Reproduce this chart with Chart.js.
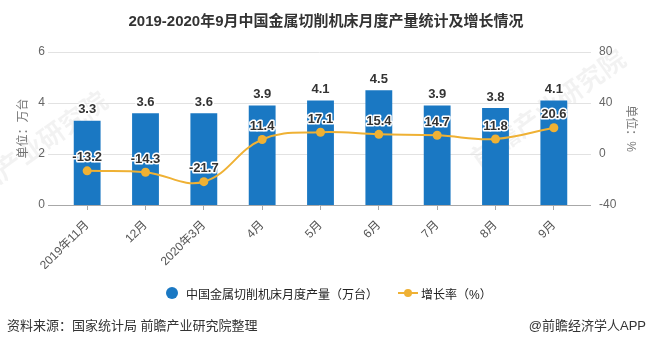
<!DOCTYPE html>
<html>
<head>
<meta charset="utf-8">
<script src="https://cdn.jsdelivr.net/npm/chart.js@4/dist/chart.umd.min.js"></script>
<style>
  html, body { margin: 0; padding: 0; background: #fff; }
  body { width: 652px; height: 345px; position: relative; overflow: hidden;
         font-family: "Liberation Sans", "Noto Sans CJK SC", sans-serif; }
  #title { position: absolute; top: 9px; left: 0; width: 652px; text-align: center;
           font-size: 15px; font-weight: bold; color: #333; }
  #wrap { position: absolute; left: 0; top: 0; width: 652px; height: 345px; }
  .lg { position: absolute; top: 285px; font-size: 12px; color: #222; white-space: nowrap; }
  .dot { position: absolute; top: 287px; left: 166px; width: 12px; height: 12px; border-radius: 50%; background: #1a78c3; }
  .ln { position: absolute; top: 292px; left: 398px; width: 20px; height: 2px; background: #efb134; }
  .ln::after { content: ""; position: absolute; left: 6px; top: -3px; width: 8px; height: 8px;
               border-radius: 50%; background: #efb134; }
  #src { position: absolute; top: 315px; left: 7px; font-size: 13px; color: #333; }
  #app { position: absolute; top: 315px; right: 6px; font-size: 13px; color: #333; }
</style>
</head>
<body>
<div id="wrap"><canvas id="c" width="652" height="345"></canvas></div>
<div id="title">2019-2020年9月中国金属切削机床月度产量统计及增长情况</div>
<span class="dot"></span><span class="lg" style="left:186px">中国金属切削机床月度产量（万台）</span>
<span class="ln"></span><span class="lg" style="left:421px">增长率（%）</span>
<div id="src">资料来源：国家统计局 前瞻产业研究院整理</div>
<div id="app">@前瞻经济学人APP</div>
<script>
const months = ['2019年11月', '12月', '2020年3月', '4月', '5月', '6月', '7月', '8月', '9月'];
const output = [3.3, 3.6, 3.6, 3.9, 4.1, 4.5, 3.9, 3.8, 4.1];   // 万台
const growth = [-13.2, -14.3, -21.7, 11.4, 17.1, 15.4, 14.7, 11.8, 20.6];   // %
const leftTicks = [0, 2, 4, 6];
const rightTicks = [-40, 0, 40, 80];

const BLUE = '#1a78c3';
const GOLD = '#efb134';
const FONT = '"Liberation Sans", "Noto Sans CJK SC", sans-serif';

// faint slanted watermark, then horizontal grid lines a little wider than the plot area
const gridPlugin = {
  id: 'wideGrid',
  beforeDatasetsDraw(chart) {
    const { ctx, scales } = chart;
    const y = scales.y;
    ctx.save();
    ctx.font = 'bold 26px "Noto Sans CJK SC", sans-serif';
    ctx.textAlign = 'center';
    ctx.textBaseline = 'middle';
    ctx.fillStyle = 'rgba(0,0,0,0.05)';
    [[30, 150], [548, 108]].forEach(([wx, wy]) => {
      ctx.save();
      ctx.translate(wx, wy);
      ctx.rotate(-0.62);
      ctx.fillText('前瞻产业研究院', 0, 0);
      ctx.restore();
    });
    leftTicks.forEach(v => {
      const py = Math.round(y.getPixelForValue(v)) + 0.5;
      ctx.strokeStyle = v === 0 ? '#a8a8a8' : '#e2e2e2';
      ctx.lineWidth = 1;
      ctx.beginPath();
      ctx.moveTo(48, py);
      ctx.lineTo(591, py);
      ctx.stroke();
    });
    ctx.restore();
  }
};

// value labels with a white halo
const labelPlugin = {
  id: 'valueLabels',
  afterDatasetsDraw(chart) {
    const { ctx } = chart;
    ctx.save();
    ctx.font = 'bold 13px ' + FONT;
    ctx.textAlign = 'center';
    ctx.textBaseline = 'middle';
    ctx.lineJoin = 'round';
    chart.data.datasets.forEach((ds, i) => {
      const meta = chart.getDatasetMeta(i);
      meta.data.forEach((el, j) => {
        const txt = ds.data[j].toFixed(1);
        const py = el.y - (ds.type === 'line' ? 13 : 11);
        ctx.strokeStyle = '#fff';
        ctx.lineWidth = 3;
        ctx.strokeText(txt, el.x, py);
        ctx.fillStyle = '#333';
        ctx.fillText(txt, el.x, py);
      });
    });
    ctx.restore();
  }
};

new Chart(document.getElementById('c'), {
  data: {
    labels: months,
    datasets: [
      {
        type: 'line',
        label: '增长率（%）',
        data: growth,
        yAxisID: 'y1',
        borderColor: GOLD,
        backgroundColor: GOLD,
        borderWidth: 2,
        tension: 0.4,
        pointRadius: 4.5,
        pointBackgroundColor: GOLD,
        pointBorderWidth: 0,
        order: 0
      },
      {
        type: 'bar',
        label: '中国金属切削机床月度产量（万台）',
        data: output,
        yAxisID: 'y',
        backgroundColor: BLUE,
        barPercentage: 0.46,
        categoryPercentage: 1,
        order: 1
      }
    ]
  },
  options: {
    responsive: false,
    animation: false,
    layout: { padding: { left: 14, right: 12, top: 52, bottom: 76 } },
    plugins: { legend: { display: false }, tooltip: { enabled: false } },
    scales: {
      x: {
        offset: true,
        afterFit: s => { s.height = 64; },
        grid: { offset: false, drawOnChartArea: false, drawTicks: true, tickLength: 5, color: '#a8a8a8' },
        border: { display: false },
        ticks: { color: '#555', font: { size: 12, family: FONT }, maxRotation: 45, minRotation: 45, padding: 8 }
      },
      y: {
        position: 'left',
        min: 0, max: 6,
        afterFit: s => { s.width = 44; },
        afterBuildTicks: s => { s.ticks = leftTicks.map(v => ({ value: v })); },
        grid: { display: false, drawTicks: false },
        border: { display: false },
        ticks: { color: '#666', font: { size: 12, family: FONT }, padding: 13 },
        title: { display: true, text: '单位：万台', color: '#777', font: { size: 12, family: FONT }, padding: 2 }
      },
      y1: {
        position: 'right',
        min: -40, max: 80,
        afterFit: s => { s.width = 57; },
        afterBuildTicks: s => { s.ticks = rightTicks.map(v => ({ value: v })); },
        grid: { display: false, drawTicks: false },
        border: { display: false },
        ticks: { color: '#666', font: { size: 12, family: FONT }, padding: 16 },
        title: { display: true, text: '单位：%', color: '#777', font: { size: 12, family: FONT }, padding: 2 }
      }
    }
  },
  plugins: [gridPlugin, labelPlugin]
});
</script>
</body>
</html>
